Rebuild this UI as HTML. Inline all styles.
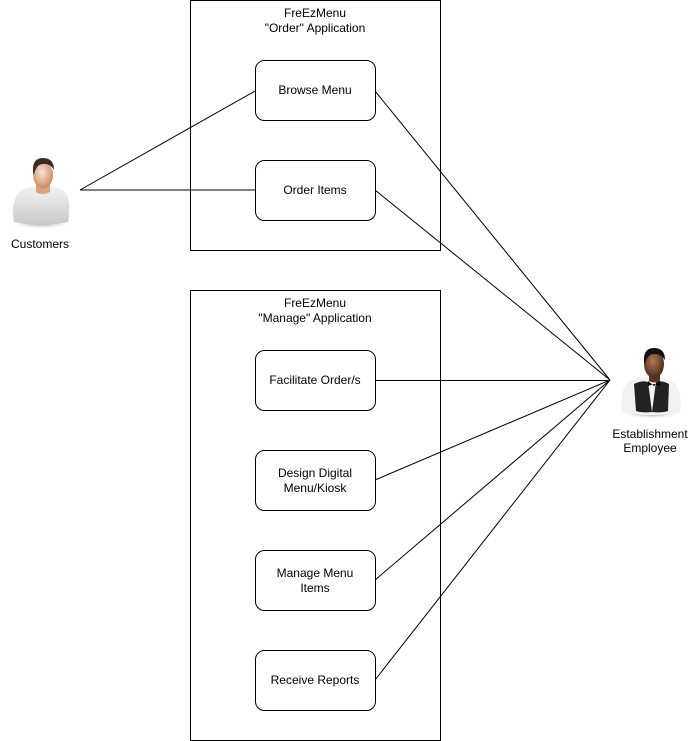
<!DOCTYPE html>
<html><head><meta charset="utf-8"><style>
html,body{margin:0;padding:0;background:#fff;}
svg{display:block;}
text{font-family:"Liberation Sans",Arial,sans-serif;font-size:12px;fill:#000;}
</style></head><body>
<svg width="691" height="741" viewBox="0 0 691 741" xmlns="http://www.w3.org/2000/svg">
<defs>
<radialGradient id="skin" cx="0.45" cy="0.4" r="0.6"><stop offset="0" stop-color="#fbe6d8"/><stop offset="1" stop-color="#c98a62"/></radialGradient>
<radialGradient id="dskin" cx="0.45" cy="0.4" r="0.6"><stop offset="0" stop-color="#b07a55"/><stop offset="1" stop-color="#4a2a18"/></radialGradient>
<linearGradient id="shirt" x1="0" y1="0" x2="0" y2="1"><stop offset="0" stop-color="#f4f4f4"/><stop offset="1" stop-color="#c8c8c8"/></linearGradient>
<radialGradient id="shadow" cx="0.5" cy="0.5" r="0.5"><stop offset="0" stop-color="#999"/><stop offset="1" stop-color="#fff" stop-opacity="0"/></radialGradient>
</defs>
<g fill="none" stroke="#000" stroke-width="1">
<rect x="190.5" y="0.5" width="250" height="250"/>
<rect x="190.5" y="290.5" width="250" height="450"/>
<rect x="255.5" y="60.5" width="120" height="60" rx="9"/>
<rect x="255.5" y="160.5" width="120" height="60" rx="9"/>
<rect x="255.5" y="350.5" width="120" height="60" rx="9"/>
<rect x="255.5" y="450.5" width="120" height="60" rx="9"/>
<rect x="255.5" y="550.5" width="120" height="60" rx="9"/>
<rect x="255.5" y="650.5" width="120" height="60" rx="9"/>
<line x1="80" y1="190" x2="255" y2="91"/>
<line x1="80" y1="190" x2="255" y2="190"/>
<line x1="610" y1="380" x2="375" y2="91"/>
<line x1="610" y1="380" x2="375" y2="190"/>
<line x1="610" y1="380.5" x2="375" y2="380.5"/>
<line x1="610" y1="380" x2="375" y2="480"/>
<line x1="610" y1="380" x2="375" y2="580"/>
<line x1="610" y1="380" x2="375" y2="680"/>
</g>
<g text-anchor="middle">
<text x="315" y="17">FreEzMenu</text>
<text x="315" y="32">"Order" Application</text>
<text x="315" y="307">FreEzMenu</text>
<text x="315" y="322">"Manage" Application</text>
<text x="315" y="94">Browse Menu</text>
<text x="315" y="194">Order Items</text>
<text x="315" y="384">Facilitate Order/s</text>
<text x="315" y="477">Design Digital</text>
<text x="315" y="492">Menu/Kiosk</text>
<text x="315" y="577">Manage Menu</text>
<text x="315" y="592">Items</text>
<text x="315" y="684">Receive Reports</text>
<text x="40" y="248">Customers</text>
<text x="650" y="438">Establishment</text>
<text x="650" y="452">Employee</text>
</g>
<!-- customer -->
<ellipse cx="41" cy="224" rx="32" ry="5" fill="url(#shadow)"/>
<path d="M14 222 Q10 198 22 190 Q32 185 43 186 Q56 185 64 191 Q72 198 68 222 Q41 228 14 222Z" fill="url(#shirt)"/>
<path d="M36 183 L36 192 Q43 196 50 192 L50 183Z" fill="#d9a27f"/>
<ellipse cx="43" cy="175" rx="10" ry="13" fill="url(#skin)"/>
<path d="M33 172 Q32 158 43 158 Q54 158 54 170 Q50 163 43 164 Q36 164 34 175Z" fill="#3a2a20"/>
<!-- employee -->
<ellipse cx="651" cy="414" rx="32" ry="5" fill="url(#shadow)"/>
<path d="M622 412 Q619 388 630 381 Q640 376 652 377 Q665 376 673 382 Q683 390 680 412 Q651 418 622 412Z" fill="#f2f2f2"/>
<path d="M634 384 Q642 380 648 382 L652 412 Q642 413 636 411Z" fill="#222"/>
<path d="M669 384 Q662 380 656 382 L652 412 Q662 413 668 411Z" fill="#222"/>
<path d="M648 381 L654 386 L660 381 L660 386 L654 384 L648 386Z" fill="#000"/>
<path d="M649 373 L649 381 Q654 384 660 381 L660 373Z" fill="#5a3522"/>
<ellipse cx="654" cy="364" rx="10" ry="14" fill="url(#dskin)"/>
<path d="M644 362 Q643 348 654 348 Q665 348 665 360 Q660 353 654 354 Q647 354 645 364Z" fill="#111"/>
</svg>
</body></html>
